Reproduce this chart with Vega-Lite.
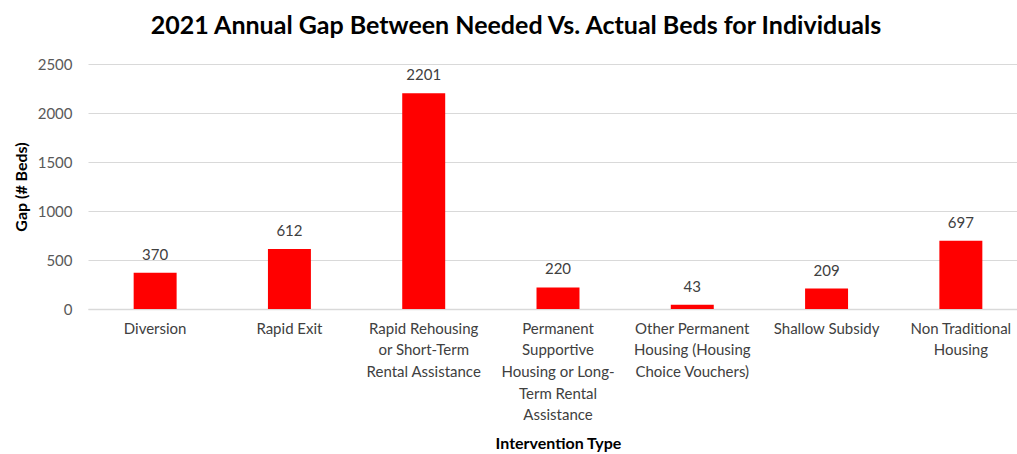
{
  "$schema": "https://vega.github.io/schema/vega-lite/v6.json",
  "width": 940,
  "height": 245,
  "autosize": {"type": "none"},
  "padding": {"left": 88, "top": 64, "right": 0, "bottom": 145},
  "background": "white",
  "view": {"stroke": null},
  "title": {
    "text": "2021 Annual Gap Between Needed Vs. Actual Beds for Individuals",
    "font": "Lato",
    "fontSize": 25,
    "fontWeight": "bold",
    "color": "#000000",
    "anchor": "middle",
    "dx": -42,
    "offset": 18
  },
  "data": {
    "values": [
      {"type": "Diversion", "gap": 370},
      {"type": "Rapid Exit", "gap": 612},
      {"type": "Rapid Rehousing|or Short-Term|Rental Assistance", "gap": 2201},
      {"type": "Permanent|Supportive|Housing or Long-|Term Rental|Assistance", "gap": 220},
      {"type": "Other Permanent|Housing (Housing|Choice Vouchers)", "gap": 43},
      {"type": "Shallow Subsidy", "gap": 209},
      {"type": "Non Traditional|Housing", "gap": 697}
    ]
  },
  "encoding": {
    "x": {
      "field": "type",
      "type": "nominal",
      "sort": null,
      "scale": {"paddingInner": 0.68, "paddingOuter": 0.34},
      "axis": {
        "title": "Intervention Type",
        "titleFont": "Lato",
        "titleFontSize": 16,
        "titleFontWeight": "bold",
        "titleColor": "#000000",
        "titlePadding": 13,
        "labelAngle": 0,
        "labelExpr": "split(datum.label, '|')",
        "labelFont": "Lato",
        "labelFontSize": 15,
        "labelColor": "#404040",
        "labelLineHeight": 21.7,
        "labelPadding": 12,
        "labelBaseline": "top",
        "ticks": false,
        "grid": false,
        "domainColor": "#d9d9d9",
        "domainWidth": 1.5
      }
    },
    "y": {
      "field": "gap",
      "type": "quantitative",
      "scale": {"domain": [0, 2500]},
      "axis": {
        "title": "Gap (# Beds)",
        "titleFont": "Lato",
        "titleFontSize": 16,
        "titleFontWeight": "bold",
        "titleColor": "#000000",
        "titlePadding": 8,
        "values": [0, 500, 1000, 1500, 2000, 2500],
        "format": "d",
        "labelFont": "Lato",
        "labelFontSize": 15,
        "labelColor": "#595959",
        "labelPadding": 16,
        "ticks": false,
        "domain": false,
        "gridColor": "#d9d9d9",
        "gridWidth": 1
      }
    }
  },
  "layer": [
    {"mark": {"type": "bar", "color": "#ff0000"}},
    {
      "mark": {"type": "text", "dy": -18, "font": "Lato", "fontSize": 15, "color": "#404040"},
      "encoding": {"text": {"field": "gap", "type": "quantitative"}}
    }
  ]
}
